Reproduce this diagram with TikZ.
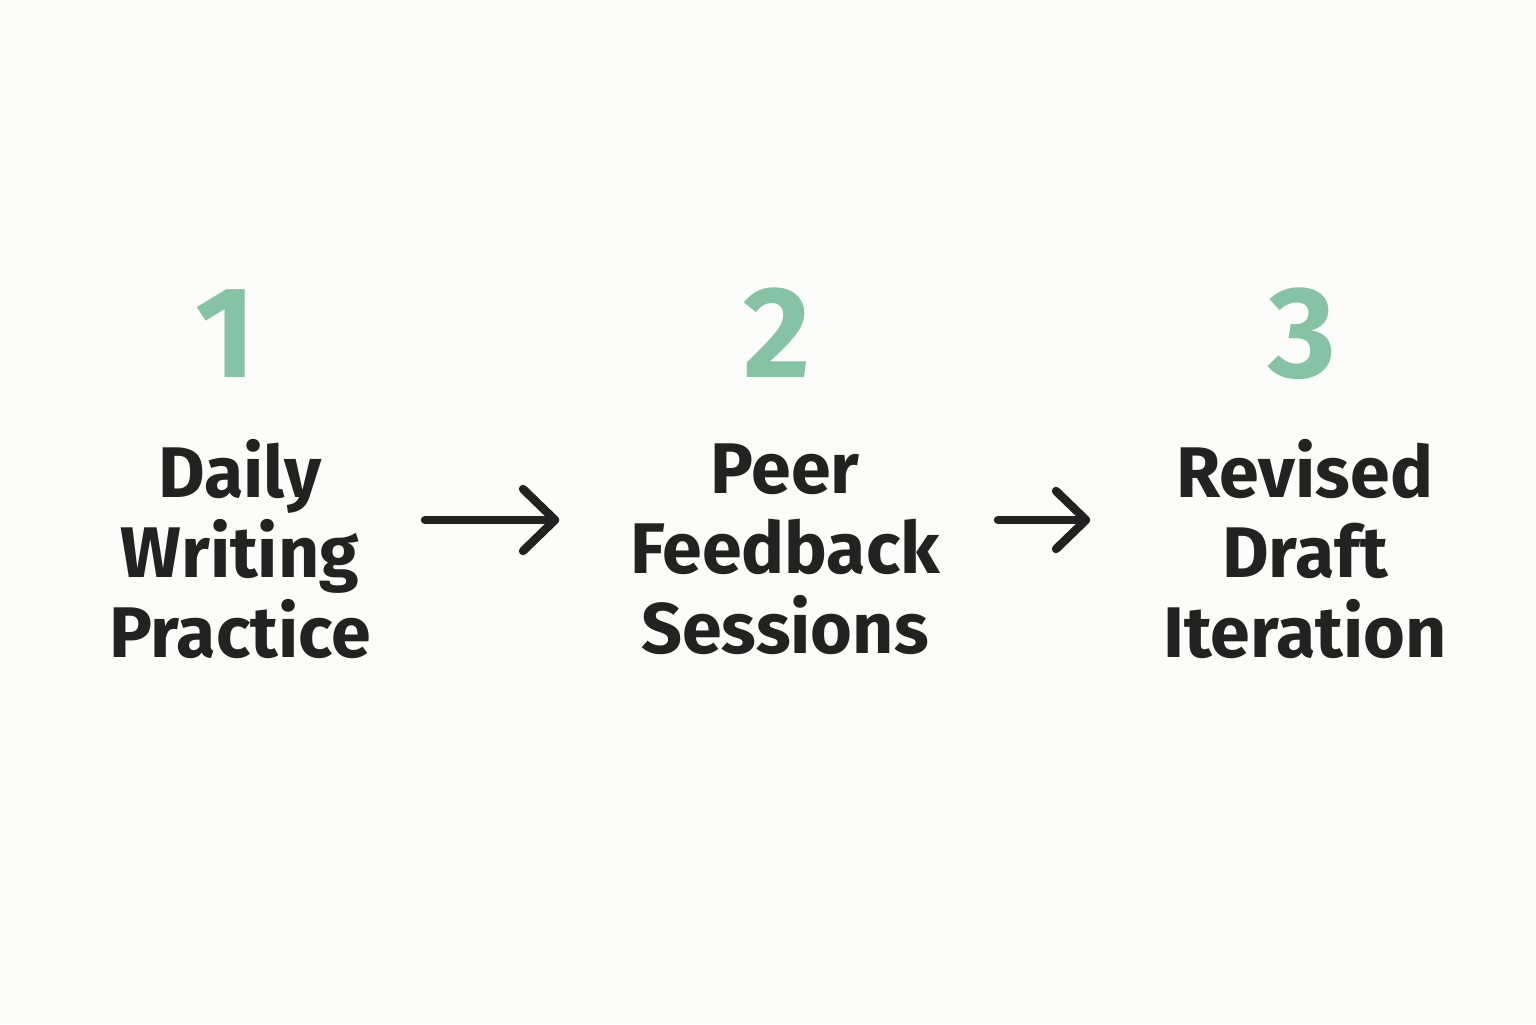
\documentclass[tikz,border=0pt]{standalone}
\usepackage{fontspec}
\setmainfont{Fira Sans}
\definecolor{bg}{HTML}{FCFCFA}
\definecolor{numgreen}{HTML}{86C3A5}
\definecolor{ink}{HTML}{222222}
\begin{document}
\begin{tikzpicture}[
  num/.style={text=numgreen, font=\fontsize{37}{40}\selectfont\bfseries, inner sep=0pt, anchor=base},
  label/.style={text=ink, font=\fontsize{20.4}{22.8}\selectfont\bfseries, align=center, inner sep=0pt},
  flow/.style={draw=ink, line width=2.4pt, line cap=round, line join=round}
]
\fill[bg] (0,0) rectangle (15.36,10.24);
\useasboundingbox (0,0) rectangle (15.36,10.24);
\node[num] (n1) at (2.26,6.46) {1};
\node[num] (n2) at (7.77,6.46) {2};
\node[num] (n3) at (13.02,6.46) {3};
\node[label] (t1) at (2.40,4.75) {Daily\\Writing\\Practice};
\node[label] (t2) at (7.85,4.75) {Peer\\Feedback\\Sessions};
\node[label] (t3) at (13.05,4.75) {Revised\\Draft\\Iteration};
\coordinate (a1s) at (4.25,5.04);
\coordinate (a1e) at (5.55,5.04);
\coordinate (a2s) at (9.98,5.04);
\coordinate (a2e) at (10.86,5.04);
\draw[flow] (a1s) -- (a1e);
\draw[flow] ([shift={(-0.32,0.31)}]a1e) -- (a1e) -- ([shift={(-0.32,-0.31)}]a1e);
\draw[flow] (a2s) -- (a2e);
\draw[flow] ([shift={(-0.30,0.29)}]a2e) -- (a2e) -- ([shift={(-0.30,-0.29)}]a2e);
\end{tikzpicture}
\end{document}
